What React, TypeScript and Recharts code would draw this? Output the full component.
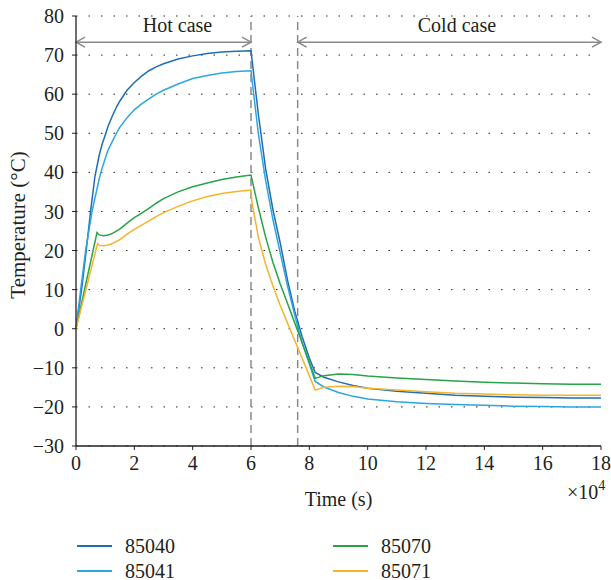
import React from 'react';
import {
  LineChart,
  Line,
  XAxis,
  YAxis,
  CartesianGrid,
  ReferenceLine,
  ReferenceDot,
} from 'recharts';

// time in units of 1e4 s, temperature in °C
const t85040 = [0, 0.2, 0.35, 0.5, 0.65, 0.8, 0.9, 1, 1.1, 1.25, 1.4, 1.5, 1.75, 2, 2.25, 2.5, 2.75, 3, 3.5, 4, 4.5, 5, 5.5, 6, 6.25, 6.5, 6.75, 7, 7.25, 7.5, 7.75, 8, 8.2, 8.5, 9, 9.5, 10, 11, 12, 13, 14, 15, 16, 17, 18];
const v85040 = [0, 10.5, 20, 30, 39, 44.5, 47.3, 49.5, 51.8, 54.5, 56.9, 58.2, 61, 63, 64.6, 66, 67, 67.8, 69, 69.8, 70.4, 70.8, 71, 71.1, 55, 41, 30.5, 22, 12.5, 4.5, -2, -7.5, -11.2, -12.4, -13.6, -14.5, -15.2, -16, -16.5, -17, -17.3, -17.5, -17.6, -17.7, -17.7];

const t85041 = [0, 0.16, 0.33, 0.55, 0.8, 0.9, 1, 1.1, 1.25, 1.4, 1.5, 1.75, 2, 2.25, 2.5, 2.75, 3, 3.5, 4, 4.5, 5, 5.5, 6, 6.25, 6.5, 6.75, 7, 7.25, 7.5, 7.75, 8, 8.2, 8.5, 9, 9.5, 10, 11, 12, 13, 14, 15, 16, 17, 18];
const v85041 = [0, 10, 20, 30, 38.5, 41.2, 43.5, 45.7, 48, 50.2, 51.5, 54, 56, 57.5, 58.8, 60, 61, 62.6, 64, 64.8, 65.4, 65.8, 66, 50, 38, 28, 19.5, 11, 3.5, -3.5, -9, -13.5, -14.9, -16.3, -17.3, -18, -18.7, -19.1, -19.4, -19.6, -19.8, -19.9, -20, -20];

const t85070 = [0, 0.72, 0.8, 0.95, 1.1, 1.25, 1.5, 1.75, 2, 2.25, 2.5, 2.75, 3, 3.5, 4, 4.5, 5, 5.5, 6, 6.25, 6.5, 6.75, 7, 7.25, 7.5, 7.75, 8, 8.2, 8.5, 9, 9.5, 10, 11, 12, 13, 14, 15, 16, 17, 18];
const v85070 = [0, 24.6, 24, 23.8, 24, 24.4, 25.5, 27, 28.4, 29.6, 30.8, 32.1, 33.3, 35, 36.3, 37.3, 38.2, 38.8, 39.3, 31, 23.5, 17, 11.5, 6.5, 1.5, -3.5, -8.5, -12.7, -12, -11.6, -11.7, -12.1, -12.6, -13, -13.4, -13.7, -13.9, -14.1, -14.2, -14.2];

const t85071 = [0, 0.74, 0.82, 0.95, 1.1, 1.25, 1.5, 1.75, 2, 2.25, 2.5, 2.75, 3, 3.5, 4, 4.5, 5, 5.5, 6, 6.03, 6.25, 6.5, 6.75, 7, 7.25, 7.5, 7.75, 8, 8.2, 8.5, 9, 9.5, 10, 11, 12, 13, 14, 15, 16, 17, 18];
const v85071 = [0, 21.8, 21.3, 21.2, 21.4, 21.8, 22.8, 24.2, 25.4, 26.5, 27.6, 28.7, 29.7, 31.3, 32.7, 33.8, 34.6, 35.1, 35.5, 32.5, 23.5, 16.5, 11, 6, 1.5, -3, -7.5, -12, -15.7, -15, -14.7, -14.8, -15.2, -15.7, -16.1, -16.5, -16.7, -16.9, -17, -17, -17];

const xTicks = [0, 2, 4, 6, 8, 10, 12, 14, 16, 18];
const yTicks = [-30, -20, -10, 0, 10, 20, 30, 40, 50, 60, 70, 80];

const dividers = [6, 7.6];
const arrows = [
  { from: 0, to: 6, y: 73.3 },
  { from: 7.6, to: 18, y: 73.3 },
];
const caseLabels = [
  { text: 'Hot case', x: 3.48, y: 77.6 },
  { text: 'Cold case', x: 13.06, y: 77.6 },
];

const series = [
  { name: '85040', t: t85040, v: v85040, color: '#1f6db5' },
  { name: '85041', t: t85041, v: v85041, color: '#2ba6e1' },
  { name: '85070', t: t85070, v: v85070, color: '#27a348' },
  { name: '85071', t: t85071, v: v85071, color: '#f6b42a' },
];

const FONT = '"Liberation Serif", "Times New Roman", serif';
const INK = '#231f20';
const GRAY = '#8a8a8a';

const toRows = (t: number[], v: number[]) => t.map((x, i) => ({ t: x, v: v[i] }));

const fmtY = (v: number) => (v < 0 ? `\u2212${Math.abs(v)}` : `${v}`);

function Arrow(props: any) {
  const { x1, y1, x2, y2 } = props;
  return (
    <g stroke={GRAY} strokeWidth={1.5} fill="none">
      <line x1={x1} y1={y1} x2={x2} y2={y2} />
      <polyline points={`${x1 + 9},${y1 - 5} ${x1},${y1} ${x1 + 9},${y1 + 5}`} />
      <polyline points={`${x2 - 9},${y2 - 5} ${x2},${y2} ${x2 - 9},${y2 + 5}`} />
    </g>
  );
}

function XLabel({ viewBox }: any) {
  if (!viewBox) return null;
  const { x, y, width } = viewBox;
  return (
    <g fontFamily={FONT} fill={INK}>
      <text x={x + width / 2} y={y + 60} textAnchor="middle" fontSize={20}>
        Time (s)
      </text>
      <text x={x + width - 34} y={y + 52.5} fontSize={20}>
        ×10
        <tspan dy={-9} fontSize={14}>4</tspan>
      </text>
    </g>
  );
}

function YLabel({ viewBox }: any) {
  if (!viewBox) return null;
  const cx = viewBox.x + 18;
  const cy = viewBox.y + viewBox.height / 2 - 6;
  return (
    <text
      x={cx}
      y={cy}
      transform={`rotate(-90, ${cx}, ${cy})`}
      textAnchor="middle"
      dominantBaseline="central"
      fontFamily={FONT}
      fontSize={21}
      fill={INK}
    >
      Temperature (°C)
    </text>
  );
}

export default function App() {
  const tickStyle = { fontFamily: FONT, fontSize: 20, fill: INK };

  return (
    <div style={{ position: 'absolute', left: 0, top: 0, width: 611, height: 580 }}>
      <LineChart width={611} height={580} margin={{ top: 16, right: 10, bottom: 0, left: 0 }}>
        <CartesianGrid vertical={false} stroke={INK} strokeDasharray="1.5 11" />
        <XAxis
          dataKey="t"
          type="number"
          domain={[0, 18]}
          ticks={xTicks}
          interval={0}
          height={134}
          tickSize={4}
          tickMargin={6}
          tick={tickStyle}
          axisLine={{ stroke: INK, strokeWidth: 1.3 }}
          tickLine={{ stroke: INK }}
          label={XLabel}
        />
        <YAxis
          type="number"
          domain={[-30, 80]}
          ticks={yTicks}
          interval={0}
          width={76}
          tickSize={4}
          tickMargin={8}
          tick={tickStyle}
          tickFormatter={fmtY}
          axisLine={{ stroke: INK, strokeWidth: 1.3 }}
          tickLine={{ stroke: INK }}
          label={YLabel}
        />
        {dividers.map((d) => (
          <ReferenceLine key={d} x={d} stroke={GRAY} strokeWidth={1.5} strokeDasharray="8 5" />
        ))}
        {arrows.map((a) => (
          <ReferenceLine
            key={a.from}
            segment={[
              { x: a.from, y: a.y },
              { x: a.to, y: a.y },
            ]}
            shape={Arrow}
          />
        ))}
        {caseLabels.map((c) => (
          <ReferenceDot
            key={c.text}
            x={c.x}
            y={c.y}
            r={0}
            fill="none"
            stroke="none"
            label={{ value: c.text, position: 'center', fontFamily: FONT, fontSize: 20, fill: INK }}
          />
        ))}
        {series.map((s) => (
          <Line
            key={s.name}
            data={toRows(s.t, s.v)}
            dataKey="v"
            name={s.name}
            type="linear"
            stroke={s.color}
            strokeWidth={1.5}
            dot={false}
            isAnimationActive={false}
          />
        ))}
      </LineChart>
      {series.map((s, i) => (
        <div
          key={s.name}
          style={{
            position: 'absolute',
            left: i < 2 ? 77 : 333,
            top: i % 2 === 0 ? 534 : 559,
            height: 24,
            display: 'flex',
            alignItems: 'center',
            fontFamily: FONT,
            fontSize: 20,
            color: INK,
          }}
        >
          <span style={{ display: 'inline-block', width: 35, height: 2, background: s.color, marginRight: 13 }} />
          {s.name}
        </div>
      ))}
    </div>
  );
}
